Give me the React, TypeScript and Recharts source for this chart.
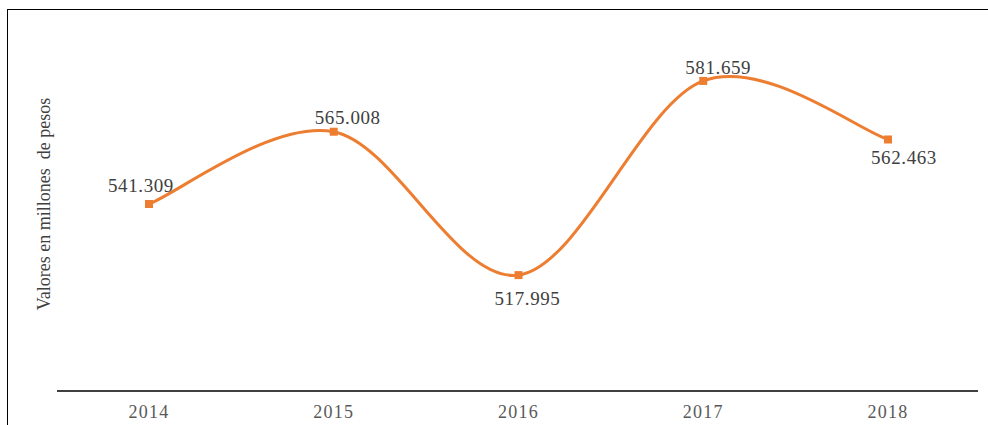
import { LineChart, Line, XAxis, YAxis, LabelList } from "recharts";

const years = ["2014", "2015", "2016", "2017", "2018"];
const valores = [541.309, 565.008, 517.995, 581.659, 562.463];

const data = years.map((year, i) => ({ year, valor: valores[i] }));

// label placement around each point (dx, dy)
const labelOffsets = [
    [-8, -19],
    [14, -14],
    [9, 23],
    [15, -13],
    [16, 18],
];

const fmt = (v: number) => v.toFixed(3);

// Excel-like smoothed line (Catmull-Rom through the points)
const smoothCurve = (context: any) => {
    let pts: number[][] = [];
    return {
        areaStart() {},
        areaEnd() {},
        lineStart() {
            pts = [];
        },
        point(x: number, y: number) {
            pts.push([+x, +y]);
        },
        lineEnd() {
            if (!pts.length) return;
            context.moveTo(pts[0][0], pts[0][1]);
            for (let i = 0; i < pts.length - 1; i++) {
                const p0 = pts[i - 1] || pts[i];
                const p1 = pts[i];
                const p2 = pts[i + 1];
                const p3 = pts[i + 2] || pts[i + 1];
                context.bezierCurveTo(
                    p1[0] + (p2[0] - p0[0]) / 6,
                    p1[1] + (p2[1] - p0[1]) / 6,
                    p2[0] - (p3[0] - p1[0]) / 6,
                    p2[1] - (p3[1] - p1[1]) / 6,
                    p2[0],
                    p2[1]
                );
            }
        },
    };
};

const SquareDot = (props: any) => {
    const { cx, cy } = props;
    if (cx == null || cy == null) return null;
    return <rect x={cx - 4} y={cy - 4} width={8} height={8} fill="#ED7D31" />;
};

const ValueLabel = (props: any) => {
    const { x, y, value, index } = props;
    const [dx, dy] = labelOffsets[index] || [0, -15];
    return (
        <text
            x={x + dx}
            y={y + dy}
            textAnchor="middle"
            dominantBaseline="central"
            fontFamily="'Liberation Serif', serif"
            fontSize={19}
            letterSpacing={0.6}
            fill="#404040"
        >
            {fmt(value)}
        </text>
    );
};

const App = () => {
    return (
        <div style={{ position: "absolute", left: 0, top: 0, width: 988, height: 425, background: "#fff" }}>
            <div
                style={{
                    position: "absolute",
                    left: 7,
                    top: 9,
                    width: 990,
                    height: 430,
                    borderLeft: "1.5px solid #000",
                    borderTop: "1.5px solid #000",
                }}
            />
            <LineChart
                width={988}
                height={425}
                data={data}
                margin={{ top: 25, right: 10, bottom: 0, left: 57 }}
                style={{ position: "absolute", left: 0, top: 0 }}
            >
                <XAxis
                    dataKey="year"
                    height={34}
                    padding={{ left: 92, right: 90 }}
                    axisLine={{ stroke: "#000", strokeWidth: 1.5 }}
                    tickLine={false}
                    tickMargin={8}
                    tick={{ fill: "#595959", fontSize: 18, letterSpacing: 1.2, fontFamily: "'Liberation Serif', serif" }}
                />
                <YAxis hide domain={[480, 600]} />
                <Line
                    type={smoothCurve as any}
                    dataKey="valor"
                    stroke="#ED7D31"
                    strokeWidth={3}
                    dot={<SquareDot />}
                    activeDot={false}
                    isAnimationActive={false}
                >
                    <LabelList dataKey="valor" content={<ValueLabel />} />
                </Line>
            </LineChart>
            <div
                style={{
                    position: "absolute",
                    left: 44,
                    top: 204,
                    transform: "translate(-50%, -50%) rotate(-90deg)",
                    whiteSpace: "pre",
                    fontFamily: "'Liberation Serif', serif",
                    fontSize: 18,
                    color: "#404040",
                }}
            >
                {"Valores en millones  de pesos"}
            </div>
        </div>
    );
};

export default App;
